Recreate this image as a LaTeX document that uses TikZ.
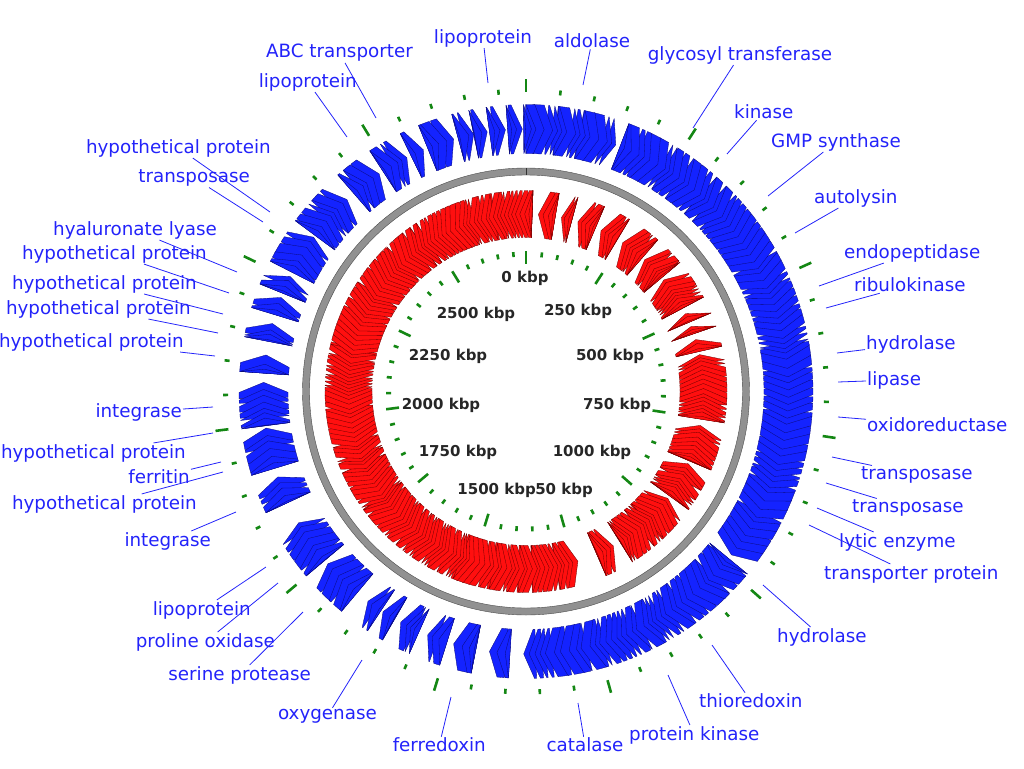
\documentclass[tikz,border=0pt]{standalone}
\usepackage{fontspec}
\setmainfont{DejaVu Sans}
\definecolor{fwdblue}{RGB}{20,35,255}
\definecolor{fwdedge}{RGB}{10,10,120}
\definecolor{revred}{RGB}{255,15,15}
\definecolor{revedge}{RGB}{100,0,0}
\definecolor{lblblue}{RGB}{35,35,250}
\definecolor{tickgreen}{RGB}{20,135,20}
\definecolor{ringgray}{RGB}{145,145,145}

% one gene arrow: compass angles (clockwise from top), forward strand points clockwise
\newcommand\fwdgene[2]{%
  \pgfmathsetmacro\gA{#1-90}\pgfmathsetmacro\gC{#2-90}%
  \pgfmathsetmacro\gB{max(\gA,\gC-2.2)}%
  \filldraw[fwd] (\gA:238) arc[start angle=\gA,end angle=\gB,radius=238] -- (\gC:262.5)
    -- (\gB:287) arc[start angle=\gB,end angle=\gA,radius=287] -- cycle;}
% reverse strand points anticlockwise
\newcommand\revgene[2]{%
  \pgfmathsetmacro\gA{#1-90}\pgfmathsetmacro\gC{#2-90}%
  \pgfmathsetmacro\gB{min(\gC,\gA+3)}%
  \filldraw[rev] (\gC:154) arc[start angle=\gC,end angle=\gB,radius=154] -- (\gA:177.5)
    -- (\gB:201) arc[start angle=\gB,end angle=\gC,radius=201] -- cycle;}
% runs of overlapping genes, laid so that the tips stay on top
\newcommand\fwdgenes[2]{%
  \pgfmathsetmacro\gS{#2}%
  \loop
    \pgfmathsetmacro\gL{2.1+2.4*rnd}%
    \pgfmathsetmacro\gE{max(\gS-\gL,#1)}%
    \fwdgene{\gE}{\gS}%
    \pgfmathsetmacro\gS{\gS-0.45*\gL}%
  \ifdim\gS pt>#1pt\repeat}
\newcommand\revgenes[2]{%
  \pgfmathsetmacro\gS{#1}%
  \loop
    \pgfmathsetmacro\gL{2.6+2.6*rnd}%
    \pgfmathsetmacro\gE{min(\gS+\gL,#2)}%
    \revgene{\gS}{\gE}%
    \pgfmathsetmacro\gS{\gS+0.35*\gL}%
  \ifdim\gS pt<#2pt\repeat}

\begin{document}
\begin{tikzpicture}[x=1pt,y=-1pt,
  fwd/.style={fill=fwdblue,draw=fwdedge,line width=0.3pt,line join=round},
  rev/.style={fill=revred,draw=revedge,line width=0.3pt,line join=round},
  scaletick/.style={tickgreen,line width=2.6pt},
  lbl/.style={font=\fontsize{18.3}{20}\selectfont,text=lblblue,inner sep=1pt},
  kbp/.style={font=\bfseries\fontsize{15}{17}\selectfont,text=black!85,inner sep=0pt},
  leader/.style={lblblue,line width=0.8pt}]
\useasboundingbox (0,0) rectangle (1024,768);
\pgfmathsetseed{11}

\begin{scope}[shift={(526,391.5)}]
% reverse strand
\foreach \a/\b in {4/9.5,11.5/15,17/23,25/31,33/41,42/50,51/62,64/67,68.5/71,73/77,
  78/99,101/113,114/126,127/148,150.5/156.5,163/362}
  {\revgenes{\a}{\b}}
% backbone
\draw[ringgray,line width=7pt] (0,0) circle[radius=220];
\draw[gray!60!black,line width=0.4pt] (0,0) circle[radius=223.5] (0,0) circle[radius=216.5];
\draw[gray!40!black,line width=0.6pt] (-90:216.5) -- (-90:223.5);
% forward strand
\foreach \a/\b in {183.5/188,191/196,197.5/202,204/208.5,210/213,213.5/217,220/229,
  230/240,245/251,253/262,262.5/272,274/278,281/285,287/291,292/296,297/306,306.5/317,
  319/326,327/333,334/337,338/344,345/348.5,348.5/351.5,352/355.5,356/359.2,359.5/380,
  381/488.5,489.5/540.5}
  {\fwdgenes{\a}{\b}}
% scale ticks every 50 kbp
\foreach \k in {0,...,54}{
  \pgfmathsetmacro\tA{\k*6.5693-90}
  \pgfmathtruncatemacro\isMaj{mod(\k,5)==0}
  \ifnum\isMaj=1
    \draw[scaletick] (\tA:300) -- (\tA:313) (\tA:128) -- (\tA:141);
  \else
    \draw[scaletick] (\tA:298) -- (\tA:303) (\tA:135) -- (\tA:140);
  \fi}
\end{scope}

% scale labels
\node[kbp] (k0) at (525,278) {0 kbp};
\node[kbp] (k250) at (578,311) {250 kbp};
\node[kbp] (k500) at (610,356) {500 kbp};
\node[kbp] (k750) at (617,405) {750 kbp};
\node[kbp] (k1000) at (592,452) {1000 kbp};
\node[kbp,anchor=east] (k1250) at (593,490) {1250 kbp};
\node[kbp,anchor=east,fill=white] (k1500) at (536,490) {1500 kbp};
\node[kbp] (k1750) at (458,452) {1750 kbp};
\node[kbp] (k2000) at (441,405) {2000 kbp};
\node[kbp] (k2250) at (448,356) {2250 kbp};
\node[kbp] (k2500) at (476,314) {2500 kbp};

% gene labels
\node[lbl] (lipo2) at (483,38) {lipoprotein};
\node[lbl] (aldo) at (592,41) {aldolase};
\node[lbl] (gtf) at (740,55) {glycosyl transferase};
\node[lbl,anchor=west] (kin) at (733,112) {kinase};
\node[lbl,anchor=west] (gmp) at (770,142) {GMP synthase};
\node[lbl,anchor=west] (aut) at (813,198) {autolysin};
\node[lbl,anchor=west] (endo) at (843,253) {endopeptidase};
\node[lbl,anchor=west] (rbk) at (853,285) {ribulokinase};
\node[lbl,anchor=west] (hyd1) at (865,344) {hydrolase};
\node[lbl,anchor=west] (lip) at (866,380) {lipase};
\node[lbl,anchor=west] (oxr) at (866,425) {oxidoreductase};
\node[lbl,anchor=west] (tnp1) at (860,475) {transposase};
\node[lbl,anchor=west] (tnp2) at (851,508) {transposase};
\node[lbl,anchor=west] (lyt) at (838,542) {lytic enzyme};
\node[lbl,anchor=west] (trp) at (823,574) {transporter protein};
\node[lbl,anchor=west] (hyd2) at (776,637) {hydrolase};
\node[lbl,anchor=west] (trx) at (698,701) {thioredoxin};
\node[lbl,anchor=west] (pkn) at (628,735) {protein kinase};
\node[lbl] (cat) at (585,745) {catalase};
\node[lbl,anchor=east] (fdx) at (487,745) {ferredoxin};
\node[lbl,anchor=east] (oxy) at (378,716) {oxygenase};
\node[lbl,anchor=east] (spr) at (312,675) {serine protease};
\node[lbl,anchor=east] (pox) at (276,642) {proline oxidase};
\node[lbl,anchor=east] (lipo3) at (252,610) {lipoprotein};
\node[lbl,anchor=east] (int1) at (212,541) {integrase};
\node[lbl,anchor=east] (hyp1) at (198,504) {hypothetical protein};
\node[lbl,anchor=east] (fer) at (191,477) {ferritin};
\node[lbl,anchor=east] (hyp2) at (187,453) {hypothetical protein};
\node[lbl,anchor=east] (int2) at (183,412) {integrase};
\node[lbl,anchor=east] (hyp3) at (185,342) {hypothetical protein};
\node[lbl,anchor=east] (hyp4) at (192,309) {hypothetical protein};
\node[lbl,anchor=east] (hyp5) at (198,284) {hypothetical protein};
\node[lbl,anchor=east] (hyp6) at (208,254) {hypothetical protein};
\node[lbl,anchor=east] (hya) at (218,230) {hyaluronate lyase};
\node[lbl,anchor=east] (tnp3) at (251,178) {transposase};
\node[lbl,anchor=east] (hyp7) at (272,148) {hypothetical protein};
\node[lbl,anchor=east] (lipo1) at (358,82) {lipoprotein};
\node[lbl,anchor=east] (abc) at (414,53) {ABC transporter};

% leaders to the features
\foreach \n/\fx/\fy in {lipo2/488/83,aldo/583/85,gtf/693/128,kin/727/154,gmp/768/196,
  aut/795/233,endo/819/286,rbk/826/308,hyd1/837/353,lip/838/382,oxr/838/417,
  tnp1/832/457,tnp2/826/483,lyt/817/508,trp/809/525,hyd2/763/585,trx/712/645,
  pkn/668/675,cat/578/703,fdx/451/697,oxy/362/660,spr/303/612,pox/278/583,
  lipo3/266/567,int1/236/512,hyp1/223/472,fer/221/462,hyp2/213/433,int2/213/407,
  hyp3/215/356,hyp4/218/333,hyp5/223/314,hyp6/229/293,hya/237/272,tnp3/263/222,
  hyp7/270/212,lipo1/347/137,abc/376/118}
  {\coordinate (\n-f) at (\fx,\fy);
   \draw[leader] (\n) -- (\n-f);}
\end{tikzpicture}
\end{document}
